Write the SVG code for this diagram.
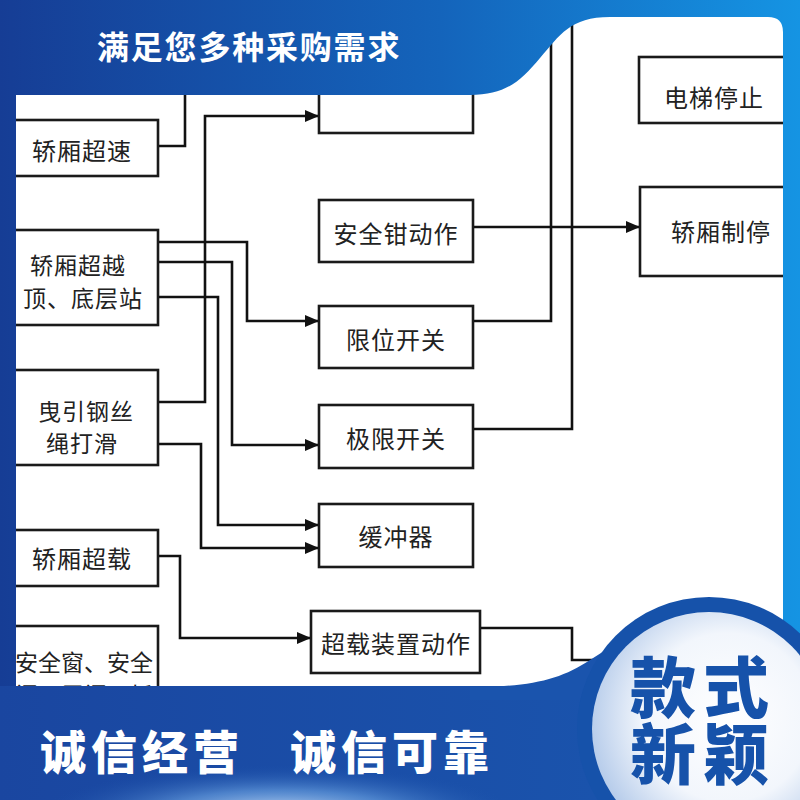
<svg xmlns="http://www.w3.org/2000/svg" width="800" height="800" viewBox="0 0 800 800">
<defs>
  <linearGradient id="bg" gradientUnits="userSpaceOnUse" x1="0" y1="0" x2="800" y2="0">
    <stop offset="0" stop-color="#163d95"/>
    <stop offset="0.55" stop-color="#1464bb"/>
    <stop offset="1" stop-color="#1594e3"/>
  </linearGradient>
  <linearGradient id="band" gradientUnits="userSpaceOnUse" x1="0" y1="0" x2="640" y2="0">
    <stop offset="0" stop-color="#1a46a0"/>
    <stop offset="1" stop-color="#1a54ad"/>
  </linearGradient>
  <radialGradient id="glow" cx="0.5" cy="0.5" r="0.5">
    <stop offset="0" stop-color="#e8f2ff" stop-opacity="0.95"/>
    <stop offset="0.5" stop-color="#7fb8f0" stop-opacity="0.5"/>
    <stop offset="1" stop-color="#1a50aa" stop-opacity="0"/>
  </radialGradient>
  <radialGradient id="disc" cx="0.58" cy="0.45" r="0.6">
    <stop offset="0" stop-color="#ffffff"/>
    <stop offset="0.6" stop-color="#f2f6fc"/>
    <stop offset="1" stop-color="#b5cbea"/>
  </radialGradient>
  <clipPath id="panelClip"><path d="M16,17 H768 Q783,17 783,32 V686 H16 Z"/></clipPath>
  <marker id="arr" markerUnits="userSpaceOnUse" markerWidth="14" markerHeight="12" refX="14" refY="6" orient="auto">
    <path d="M0,0 L14,6 L0,12 Z" fill="#111"/>
  </marker>
</defs>
<style>
  .box{fill:#fff;stroke:#1a1a1a;stroke-width:2.6}
  .lbl{font-family:"Noto Sans CJK SC","Noto Sans CJK JP",sans-serif;font-size:24px;fill:#222;text-anchor:middle;dominant-baseline:central;letter-spacing:1px}
  .two{font-size:23px}
  .wire{fill:none;stroke:#111;stroke-width:2.6}
  .arrow{marker-end:url(#arr)}
  .hb{font-family:"Noto Sans CJK SC","Noto Sans CJK JP",sans-serif;font-weight:700;fill:#fff}
  .big{font-family:"Noto Sans CJK SC","Noto Sans CJK JP",sans-serif;font-weight:900;font-size:66px;letter-spacing:7px;fill:#1652aa}
</style>

<rect x="0" y="0" width="800" height="800" fill="url(#bg)"/>
<path d="M16,17 H768 Q783,17 783,32 V686 H16 Z" fill="#fff"/>

<g clip-path="url(#panelClip)">
  <g id="connectors">
    <path class="wire" d="M158,146 H185 V40"/>
    <path class="wire arrow" d="M158,402 H205 V116 H319"/>
    <path class="wire arrow" d="M158,242 H247 V321 H319"/>
    <path class="wire arrow" d="M158,262 H232 V445 H319"/>
    <path class="wire arrow" d="M158,297 H218 V525 H319"/>
    <path class="wire arrow" d="M158,444 H201 V548 H319"/>
    <path class="wire arrow" d="M158,556 H180 V638 H311"/>
    <path class="wire arrow" d="M473,227 H640"/>
    <path class="wire" d="M473,321 H551 V0"/>
    <path class="wire" d="M473,429 H572 V0"/>
    <path class="wire" d="M480,628 H572 V660 H660"/>
  </g>

  <g id="n-overspeed"><rect class="box" x="-4" y="120" width="162" height="56"/><text class="lbl" x="82" y="149">轿厢超速</text></g>
  <g id="n-overtravel"><rect class="box" x="-4" y="230" width="162" height="95"/><text class="lbl two" x="78" y="264">轿厢超越</text><text class="lbl two" x="83" y="297">顶、底层站</text></g>
  <g id="n-ropeslip"><rect class="box" x="-4" y="370" width="162" height="95"/><text class="lbl two" x="86" y="410">曳引钢丝</text><text class="lbl two" x="82" y="442">绳打滑</text></g>
  <g id="n-overload"><rect class="box" x="-4" y="530" width="162" height="56"/><text class="lbl" x="82" y="557">轿厢超载</text></g>
  <g id="n-safetywin"><rect class="box" x="-4" y="626" width="162" height="100"/><text class="lbl" x="84" y="661" style="font-size:23px;letter-spacing:0">安全窗、安全</text><text class="lbl" x="84" y="694" style="font-size:23px;letter-spacing:0">门、层门、轿</text></g>

  <g id="n-top"><rect class="box" x="319" y="60" width="154" height="73"/></g>
  <g id="n-safetygear"><rect class="box" x="319" y="200" width="154" height="62"/><text class="lbl" x="396" y="232">安全钳动作</text></g>
  <g id="n-limit"><rect class="box" x="319" y="306" width="154" height="62"/><text class="lbl" x="396" y="338">限位开关</text></g>
  <g id="n-final"><rect class="box" x="319" y="405" width="154" height="63"/><text class="lbl" x="396" y="437">极限开关</text></g>
  <g id="n-buffer"><rect class="box" x="319" y="504" width="154" height="63"/><text class="lbl" x="396" y="535">缓冲器</text></g>
  <g id="n-overloaddev"><rect class="box" x="311" y="611" width="169" height="62"/><text class="lbl" x="396" y="642">超载装置动作</text></g>

  <g id="n-stop"><rect class="box" x="639" y="57" width="180" height="66"/><text class="lbl" x="714" y="96">电梯停止</text></g>
  <g id="n-carstop"><rect class="box" x="640" y="187" width="180" height="89"/><text class="lbl" x="721" y="230">轿厢制停</text></g>
</g>

<path d="M0,0 H620 V17 H610 C570,17 560,35 540,58 C520,82 505,95 470,95 H0 Z" fill="url(#bg)"/>
<text class="hb" x="97" y="59" font-size="32" letter-spacing="1.8" font-weight="900">满足您多种采购需求</text>

<rect x="0" y="686" width="800" height="114" fill="url(#band)"/>
<ellipse cx="280" cy="815" rx="240" ry="50" fill="url(#glow)"/>
<path d="M470,687 C530,687 560,680 590,660 L612,646 L650,700 L470,700 Z" fill="#1a54ad"/>
<circle cx="709" cy="729" r="132" fill="#1652aa"/>
<circle cx="709" cy="729" r="117" fill="url(#disc)"/>

<text class="hb" x="40" y="769" font-size="46" letter-spacing="5" style="font-weight:900">诚信经营</text>
<text class="hb" x="290" y="769" font-size="46" letter-spacing="5" style="font-weight:900">诚信可靠</text>

<text class="big"><tspan x="630" y="712">款式</tspan><tspan x="630" y="779">新颖</tspan></text>
</svg>
